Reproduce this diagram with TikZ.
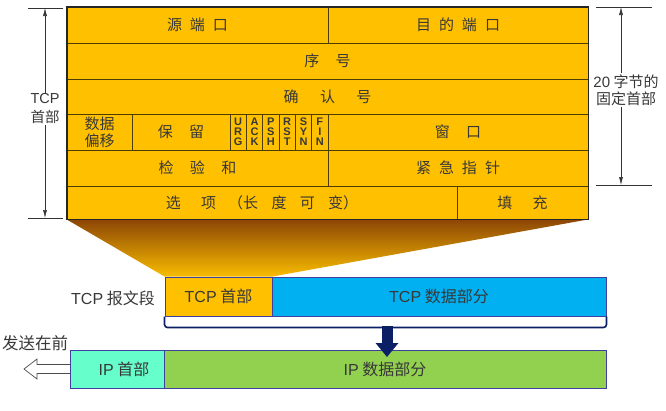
\documentclass[tikz,border=0pt]{standalone}
\usepackage{fontspec}
\setmainfont{Noto Sans CJK SC}
\newfontfamily\flagfont{Liberation Sans}
\usetikzlibrary{arrows.meta,backgrounds}
\definecolor{hdr}{HTML}{FFC000}
\definecolor{hdrline}{HTML}{4D3B00}
\definecolor{tcpblue}{HTML}{00B0F0}
\definecolor{ipcyan}{HTML}{66FFCC}
\definecolor{ipgreen}{HTML}{92D050}
\definecolor{boxline}{HTML}{3F3F9F}
\definecolor{navy}{HTML}{0B1F65}
\definecolor{txt}{HTML}{383838}
\definecolor{shtop}{HTML}{8C4606}
\definecolor{shbot}{HTML}{F8BC00}
\newcommand{\kg}[1][8pt]{\hspace{#1}}
\newcommand{\lat}[1]{{\flagfont #1}}
\tikzset{
	field/.style={
		draw=hdrline,
		fill=hdr,
		line width=0.8pt,
		inner sep=0pt,
		text=txt,
		align=center,
		font=\fontsize{15}{17}\selectfont
	},
	flag/.style={field, font=\flagfont\bfseries\fontsize{11}{10}\selectfont},
	seg/.style={
		draw=boxline,
		line width=1pt,
		inner sep=0pt,
		text=txt,
		font=\fontsize{16}{18}\selectfont
	},
	dimline/.style={draw=black!80, line width=0.6pt},
	dimarrow/.style={dimline, -{Latex[length=8pt,width=4pt]}},
	dimtext/.style={text=txt, align=center, inner sep=1pt, font=\fontsize{15}{17}\selectfont}
}

\begin{document}
\begin{tikzpicture}[x=1pt, y=-1pt]
\useasboundingbox (0,0) rectangle (666,410);

% TCP header fields
\node[field, minimum width=261, minimum height=36] (src) at (197.5,25) {源\kg 端\kg 口};
\node[field, minimum width=260, minimum height=36] (dst) at (458,25) {目\kg 的\kg 端\kg 口};
\node[field, minimum width=521, minimum height=36] (seq) at (327.5,61) {序\kg[13pt] 号};
\node[field, minimum width=521, minimum height=35] (ack) at (327.5,96.5) {确\kg[18pt] 认\kg[18pt] 号};
\node[field, minimum width=65, minimum height=36] (off) at (99.5,132) {数据\\偏移};
\node[field, minimum width=98, minimum height=36] (res) at (181,132) {保\kg[13pt] 留};
\foreach \f [count=\i from 0] in {{U\\R\\G},{A\\C\\K},{P\\S\\H},{R\\S\\T},{S\\Y\\N},{F\\I\\N}}
	\node[flag, minimum width=16.33, minimum height=36] (flag\i) at (238.17+\i*16.33,132) {\f};
\node[field, minimum width=260, minimum height=36] (win) at (458,132) {窗\kg[13pt] 口};
\node[field, minimum width=261, minimum height=36] (chk) at (197.5,168) {检\kg[13pt] 验\kg[13pt] 和};
\node[field, minimum width=260, minimum height=36] (urg) at (458,168) {紧\kg 急\kg 指\kg 针};
\node[field, minimum width=390, minimum height=33] (opt) at (262,202.5) {选\kg[17pt] 项\kg[12pt]（长\kg[10pt] 度\kg[10pt] 可\kg[10pt] 变）};
\node[field, minimum width=131, minimum height=33] (pad) at (522.5,202.5) {填\kg[17pt] 充};
\draw[line width=1.8pt, draw=black!85] (src.north west) rectangle (pad.south east);

% header size marks
\draw[dimline] (28,8) -- (63,8);
\draw[dimline] (28,218) -- (63,218);
\coordinate (lt) at (45,8);
\coordinate (lb) at (45,218);
\node[dimtext, font=\fontsize{14.5}{19}\selectfont] (tcpl) at (45,109) {\lat{TCP}\\首部};
\draw[dimarrow] (tcpl) -- (lt);
\draw[dimarrow] (tcpl) -- (lb);

\draw[dimline] (596,7) -- (652,7);
\draw[dimline] (596,185) -- (652,185);
\coordinate (rt) at (621,7);
\coordinate (rb) at (621,185);
\node[dimtext] (fixl) at (626,90) {\lat{20} 字节的\\固定首部};
\draw[dimarrow] (fixl.north -| rt) -- (rt);
\draw[dimarrow] (fixl.south -| rb) -- (rb);

% TCP segment
\node[seg, fill=hdr, minimum width=107, minimum height=39] (tcph) at (218.5,296.5) {\lat{TCP} 首部};
\node[seg, fill=tcpblue, minimum width=334, minimum height=39] (tcpd) at (439,296.5) {\lat{TCP} 数据部分};
\node[text=txt, font=\fontsize{16}{18}\selectfont, anchor=east, inner sep=0pt] (segl) at (155,298) {\lat{TCP} 报文段};
\draw[navy, line width=1.6pt, rounded corners=3pt] (tcph.south west) -- ++(0,11) -| (tcpd.south east);
\coordinate (brk) at (387,326);

% IP datagram
\node[seg, fill=ipcyan, minimum width=94, minimum height=38] (iph) at (117,369) {\hspace{14pt}\lat{IP} 首部};
\node[seg, fill=ipgreen, minimum width=442, minimum height=38] (ipd) at (385,369) {\lat{IP} 数据部分\hspace{28pt}};
\node[text=txt, font=\fontsize{16.5}{18}\selectfont, inner sep=0pt] (first) at (35,343) {发送在前};
\coordinate (tip) at (387,357);
\draw[navy, line width=11pt, -{Triangle[length=14pt,width=22pt]}] (brk) -- (tip);

\begin{pgfonlayer}{background}
\shade[top color=shtop, bottom color=shbot] (opt.south west) -- (pad.south east) -- (tcph.north east) -- (tcph.north west) -- cycle;
\draw[draw=black!70, fill=white, line width=0.7pt] (74,364.5) -- (37,364.5) -- (37,359) -- (24,369) -- (37,379) -- (37,373.5) -- (74,373.5);
\end{pgfonlayer}
\end{tikzpicture}
\end{document}
